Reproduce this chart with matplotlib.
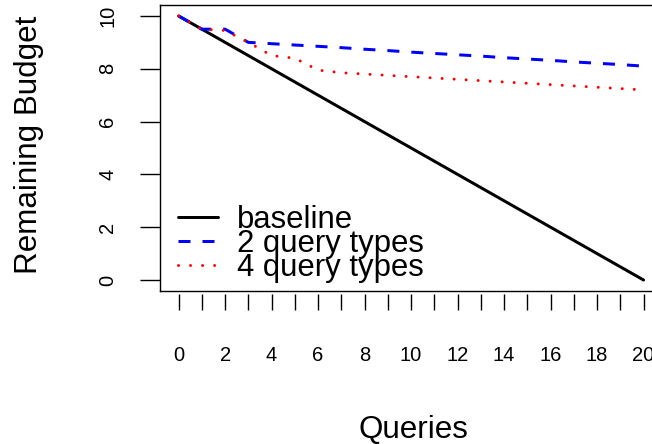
import matplotlib
matplotlib.use("Agg")
import matplotlib.pyplot as plt

queries = list(range(0, 21))
baseline = [10.0, 9.5, 9.0, 8.5, 8.0, 7.5, 7.0, 6.5, 6.0, 5.5, 5.0,
            4.5, 4.0, 3.5, 3.0, 2.5, 2.0, 1.5, 1.0, 0.5, 0.0]
two_types = [10.0, 9.5, 9.5, 9.0, 8.95, 8.9, 8.85, 8.8, 8.74, 8.69, 8.63,
             8.58, 8.53, 8.48, 8.42, 8.37, 8.32, 8.26, 8.21, 8.16, 8.1]
four_types = [10.0, 9.5, 9.45, 9.0, 8.5, 8.4, 7.95, 7.85, 7.8, 7.75, 7.7,
              7.65, 7.6, 7.55, 7.5, 7.45, 7.4, 7.35, 7.3, 7.25, 7.2]
series_labels = ["baseline", "2 query types", "4 query types"]
x_ticks = list(range(0, 21))
x_ticklabels = [str(v) if v % 2 == 0 else "" for v in x_ticks]
y_ticks = [0, 2, 4, 6, 8, 10]

plt.rcParams['font.family'] = ['Liberation Sans', 'DejaVu Sans']

W, H = 652, 444
fig = plt.figure(figsize=(W / 100, H / 100), dpi=100)
left_px, right_px, top_px, bottom_px = 160, 662.2, 5.4, 290.6
ax = fig.add_axes([left_px / W, 1 - bottom_px / H,
                   (right_px - left_px) / W, (bottom_px - top_px) / H])

lw = 2.16
ax.plot(queries, baseline, color='black', lw=lw, solid_capstyle='round',
        label=series_labels[0])
ax.plot(queries, two_types, color='#0000ff', lw=lw, linestyle=(0, (4, 4)),
        dash_capstyle='butt', label=series_labels[1])
ax.plot(queries, four_types, color='#ff0000', lw=lw, linestyle=(0, (0.01, 4)),
        dash_capstyle='round', label=series_labels[2])

ax.set_xlim(-0.8, 20.8)
ax.set_ylim(-0.4, 10.4)

for s in ['top', 'left', 'bottom', 'right']:
    ax.spines[s].set_linewidth(1.0)
    ax.spines[s].set_color('black')

# y axis
ax.set_yticks(y_ticks)
ax.set_yticklabels([str(v) for v in y_ticks])
ax.tick_params(axis='y', direction='out', length=14.4, width=1.0,
               pad=16.5, labelsize=14.5, labelrotation=90)
for lab in ax.get_yticklabels():
    lab.set_va('center')

# x axis: ticks drawn slightly below the box
ax.set_xticks([])
sec = ax.secondary_xaxis(location=-3 / (bottom_px - top_px))
sec.spines['bottom'].set_visible(False)
sec.set_xticks(x_ticks)
sec.set_xticklabels(x_ticklabels)
sec.tick_params(axis='x', direction='out', length=11.5, width=1.0,
                pad=26.0, labelsize=14.5)

ax.set_ylabel("Remaining Budget", fontsize=22.6)
ax.yaxis.set_label_coords((43.6 - left_px) / (right_px - left_px), 0.51)
fig.text((358 + 468) / 2 / W, 1 - 437.7 / H, "Queries", fontsize=22.6,
         ha='center', va='baseline')

leg = ax.legend(loc='center left',
                bbox_to_anchor=((178 - left_px) / (right_px - left_px),
                                (bottom_px - 244.0) / (bottom_px - top_px)),
                frameon=False, fontsize=22.4, borderpad=0, borderaxespad=0,
                handlelength=1.29, handletextpad=0.6, labelspacing=-0.2)

fig.savefig("out.png", dpi=100)
